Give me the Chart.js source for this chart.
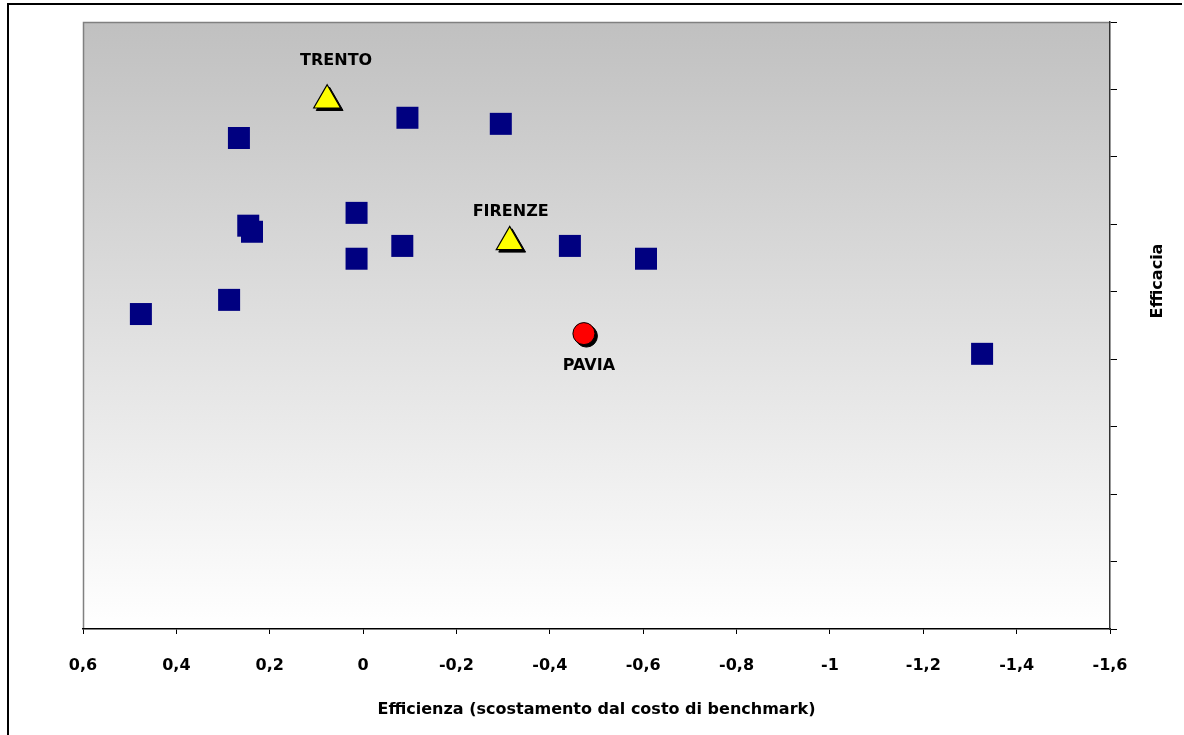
<!DOCTYPE html>
<html>
<head>
<meta charset="utf-8">
<script src="https://cdn.jsdelivr.net/npm/chart.js@4/dist/chart.umd.min.js"></script>
<style>
  html, body { margin: 0; padding: 0; background: #ffffff; overflow: hidden; }
  #wrap { width: 1184px; height: 735px; position: relative; }
</style>
</head>
<body>
<div id="wrap"><canvas id="chart" width="1184" height="735"></canvas></div>
<script>
// Efficiency (x) vs effectiveness (y) of the benchmark group
const otherX = [0.266, -0.095, -0.295, 0.246, 0.238, 0.014, 0.014, -0.084, -0.443, -0.606, 0.287, 0.476, -1.326];
const otherY = [7.28, 7.58, 7.49, 5.98, 5.89, 6.17, 5.49, 5.68, 5.68, 5.49, 4.88, 4.67, 4.08];

const refNames = ['TRENTO', 'FIRENZE'];
const refX = [0.077, -0.314];
const refY = [7.84, 5.74];

const paviaNames = ['PAVIA'];
const paviaX = [-0.473];
const paviaY = [4.38];

const xTitle = 'Efficienza (scostamento dal costo di benchmark)';
const yTitle = 'Efficacia';

const FONT = '"DejaVu Sans", sans-serif';

function toPoints(xs, ys) {
  return xs.map((x, i) => ({ x: x, y: ys[i] }));
}

// Outer frame and shaded plot background
const framePlugin = {
  id: 'frame',
  beforeDraw(chart) {
    const ctx = chart.ctx;
    const a = chart.chartArea;
    ctx.save();
    ctx.fillStyle = '#ffffff';
    ctx.fillRect(0, 0, chart.width, chart.height);
    ctx.strokeStyle = '#000000';
    ctx.lineWidth = 2;
    ctx.beginPath();
    ctx.moveTo(8, chart.height + 5);
    ctx.lineTo(8, 4);
    ctx.lineTo(chart.width - 2, 4);
    ctx.stroke();
    const g = ctx.createLinearGradient(0, a.top, 0, a.bottom);
    g.addColorStop(0, '#c0c0c0');
    g.addColorStop(1, '#ffffff');
    ctx.fillStyle = g;
    ctx.fillRect(a.left, a.top, a.right - a.left, a.bottom - a.top);
    ctx.strokeStyle = '#808080';
    ctx.lineWidth = 1.5;
    ctx.beginPath();
    ctx.moveTo(a.left + 0.5, a.bottom);
    ctx.lineTo(a.left + 0.5, a.top + 0.5);
    ctx.lineTo(a.right, a.top + 0.5);
    ctx.stroke();
    ctx.restore();
  },
  afterDraw(chart) {
    const ctx = chart.ctx;
    ctx.save();
    ctx.translate(1158, 281);
    ctx.rotate(-Math.PI / 2);
    ctx.fillStyle = '#000000';
    ctx.font = 'bold 16px ' + FONT;
    ctx.textAlign = 'center';
    ctx.textBaseline = 'middle';
    ctx.fillText(yTitle, 0, 0);
    ctx.restore();
  }
};

// Solid drop shadow behind the highlighted markers
const shadowPlugin = {
  id: 'markerShadow',
  beforeDatasetDraw(chart, args) {
    const ds = chart.data.datasets[args.index];
    if (!ds.shadow) return;
    const ctx = chart.ctx;
    const meta = chart.getDatasetMeta(args.index);
    ctx.save();
    ctx.fillStyle = '#000000';
    ctx.strokeStyle = '#000000';
    ctx.lineWidth = 1;
    meta.data.forEach(pt => {
      Chart.helpers.drawPoint(ctx, {
        pointStyle: ds.pointStyle,
        radius: ds.pointRadius,
        rotation: 0,
        borderWidth: 1
      }, pt.x + 2.5, pt.y + 2.5);
    });
    ctx.restore();
  }
};

// City names next to their markers
const namePlugin = {
  id: 'cityNames',
  afterDatasetsDraw(chart) {
    const ctx = chart.ctx;
    ctx.save();
    ctx.fillStyle = '#000000';
    ctx.font = 'bold 16px ' + FONT;
    ctx.textAlign = 'center';
    ctx.textBaseline = 'middle';
    chart.data.datasets.forEach((ds, di) => {
      if (!ds.names) return;
      const meta = chart.getDatasetMeta(di);
      meta.data.forEach((pt, i) => {
        const off = ds.nameOffsets[i];
        ctx.fillText(ds.names[i], pt.x + off[0], pt.y + off[1]);
      });
    });
    ctx.restore();
  }
};

const chart = new Chart(document.getElementById('chart'), {
  type: 'scatter',
  data: {
    datasets: [
      {
        label: 'Altre città',
        data: toPoints(otherX, otherY),
        pointStyle: 'rect',
        pointRadius: 15.56,
        pointHoverRadius: 15.56,
        backgroundColor: '#000080',
        borderWidth: 0
      },
      {
        label: 'Riferimento',
        data: toPoints(refX, refY),
        names: refNames,
        nameOffsets: [[9, -39], [1, -30]],
        shadow: true,
        pointStyle: 'triangle',
        pointRadius: 15.5,
        pointHoverRadius: 15.5,
        backgroundColor: '#ffff00',
        borderColor: '#000000',
        borderWidth: 1.2
      },
      {
        label: 'Pavia',
        data: toPoints(paviaX, paviaY),
        names: paviaNames,
        nameOffsets: [[5, 32]],
        shadow: true,
        pointStyle: 'circle',
        pointRadius: 11,
        pointHoverRadius: 11,
        backgroundColor: '#ff0000',
        borderColor: '#000000',
        borderWidth: 1
      }
    ]
  },
  options: {
    responsive: false,
    animation: false,
    events: [],
    layout: { padding: { left: 83, top: 22, right: 0, bottom: 0 } },
    plugins: {
      legend: { display: false },
      tooltip: { enabled: false }
    },
    scales: {
      x: {
        type: 'linear',
        reverse: true,
        min: -1.6,
        max: 0.6,
        afterFit(scale) { scale.height = 106; },
        ticks: {
          stepSize: 0.2,
          color: '#000000',
          font: { family: FONT, size: 16, weight: 'bold' },
          padding: 22,
          maxRotation: 0,
          callback: v => String(Math.round(v * 10) / 10).replace('.', ',')
        },
        grid: {
          drawOnChartArea: false,
          drawTicks: true,
          tickLength: 5,
          color: '#000000'
        },
        border: { color: '#000000', width: 1.5 },
        title: {
          display: true,
          text: xTitle,
          color: '#000000',
          font: { family: FONT, size: 16, weight: 'bold' },
          padding: { top: 0, bottom: 16 }
        }
      },
      y: {
        type: 'linear',
        position: 'right',
        min: 0,
        max: 9,
        afterFit(scale) { scale.width = 74; },
        ticks: { stepSize: 1, display: false },
        grid: {
          drawOnChartArea: false,
          drawTicks: true,
          tickLength: 7,
          color: '#000000'
        },
        border: { color: '#333333', width: 1.5 }
      }
    }
  },
  plugins: [framePlugin, shadowPlugin, namePlugin]
});
</script>
</body>
</html>
